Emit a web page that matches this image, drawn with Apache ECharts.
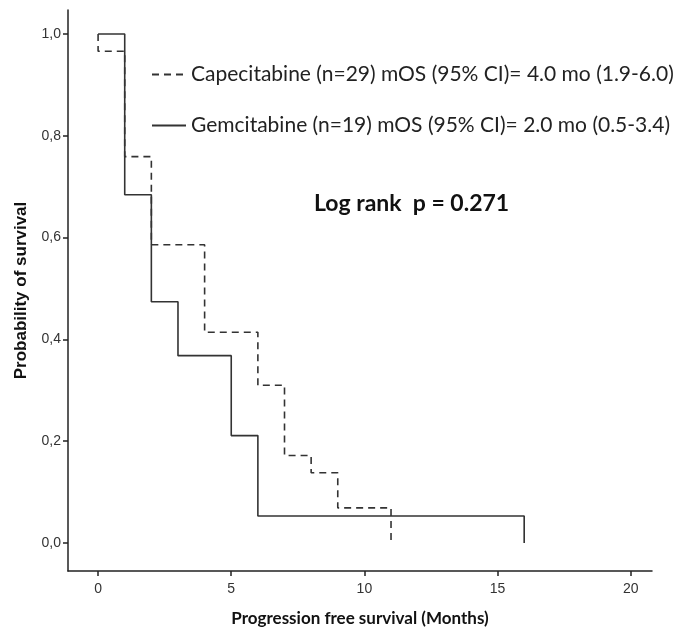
<!DOCTYPE html>
<html>
<head>
<meta charset="utf-8">
<script src="https://cdn.jsdelivr.net/npm/echarts@6/dist/echarts.min.js"></script>
<style>
  html, body { margin: 0; padding: 0; background: #fff; }
  #chart { width: 687px; height: 627px; }
</style>
</head>
<body>
<div id="chart"></div>
<script>
// time points (months) and survival probabilities
var capeTimes = [0, 0, 1, 2, 4, 6, 7, 8, 9, 11];
var capeSurv = [1.0, 0.966, 0.759, 0.586, 0.414, 0.310, 0.172, 0.138, 0.069, 0.0];
var gemTimes = [0, 1, 2, 3, 5, 6, 16];
var gemSurv = [1.0, 0.684, 0.474, 0.368, 0.211, 0.053, 0.0];

var xTicks = [0, 5, 10, 15, 20];
var yTicks = [0, 0.2, 0.4, 0.6, 0.8, 1.0];

var capeName = 'Capecitabine (n=29) mOS (95% CI)= 4.0 mo (1.9-6.0)';
var gemName = 'Gemcitabine (n=19) mOS (95% CI)= 2.0 mo (0.5-3.4)';

function pairs(xs, ys) {
    return xs.map(function (x, i) { return [x, ys[i]]; });
}

var chart = echarts.init(document.getElementById('chart'));

var option = {
    backgroundColor: '#fff',
    animation: false,
    grid: { left: 68, right: 35, top: 10, bottom: 56, outerBoundsMode: 'none' },
    legend: {
        orient: 'vertical',
        left: 146,
        top: 59,
        itemGap: 30,
        itemWidth: 34,
        itemHeight: 14,
        // hide the symbol in the middle of the legend line
        itemStyle: { opacity: 0 },
        textStyle: { fontFamily: 'Lato', fontSize: 21, color: '#222' },
        data: [capeName, gemName]
    },
    xAxis: {
        type: 'value',
        min: -1.13,
        max: 20.8,
        name: 'Progression free survival (Months)',
        nameLocation: 'middle',
        nameGap: 39,
        nameTextStyle: { fontFamily: 'Lato', fontWeight: 'bold', fontSize: 17, color: '#111' },
        splitLine: { show: false },
        axisLine: { onZero: false, lineStyle: { color: '#222', width: 1.5 } },
        axisTick: { customValues: xTicks, length: 5, lineStyle: { color: '#222', width: 1.5 } },
        axisLabel: { customValues: xTicks, color: '#333', fontFamily: 'Liberation Sans', fontSize: 14, margin: 11 }
    },
    yAxis: {
        type: 'value',
        min: -0.055,
        max: 1.047,
        name: 'Probability of survival',
        nameLocation: 'middle',
        nameGap: 38,
        nameTextStyle: { fontFamily: 'Liberation Sans', fontWeight: 'bold', fontSize: 17, color: '#111' },
        splitLine: { show: false },
        axisLine: { show: true, onZero: false, lineStyle: { color: '#222', width: 1.5 } },
        axisTick: { show: true, customValues: yTicks, length: 5, lineStyle: { color: '#222', width: 1.5 } },
        axisLabel: {
            customValues: yTicks, color: '#333', fontFamily: 'Liberation Sans', fontSize: 14, margin: 7,
            formatter: function (v) { return v.toFixed(1).replace('.', ','); }
        }
    },
    graphic: [{
        type: 'text',
        left: 314,
        top: 192,
        style: { text: 'Log rank  p = 0.271', font: 'bold 23px Lato', fill: '#111' }
    }],
    series: [{
        name: capeName,
        type: 'line',
        step: 'end',
        symbol: 'none',
        data: pairs(capeTimes, capeSurv),
        lineStyle: { color: '#333', width: 1.6, type: [7, 5] },
        itemStyle: { color: '#333' }
    }, {
        name: gemName,
        type: 'line',
        step: 'end',
        symbol: 'none',
        data: pairs(gemTimes, gemSurv),
        lineStyle: { color: '#333', width: 1.6, type: 'solid' },
        itemStyle: { color: '#333' }
    }]
};

chart.setOption(option);
</script>
</body>
</html>
